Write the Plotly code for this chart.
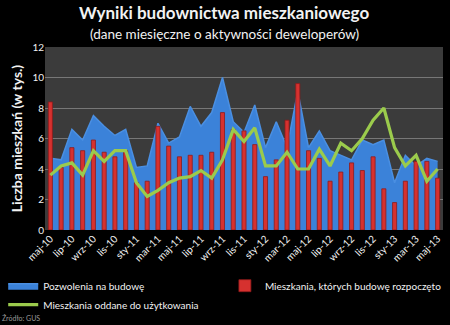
import plotly.graph_objects as go

# Monthly housing construction data, May 2010 - May 2013 (thousands of dwellings)
months = [
    "maj-10", "cze-10", "lip-10", "sie-10", "wrz-10", "paź-10", "lis-10", "gru-10",
    "sty-11", "lut-11", "mar-11", "kwi-11", "maj-11", "cze-11", "lip-11", "sie-11",
    "wrz-11", "paź-11", "lis-11", "gru-11", "sty-12", "lut-12", "mar-12", "kwi-12",
    "maj-12", "cze-12", "lip-12", "sie-12", "wrz-12", "paź-12", "lis-12", "gru-12",
    "sty-13", "lut-13", "mar-13", "kwi-13", "maj-13",
]

pozwolenia = [
    4.7, 4.6, 6.6, 5.9, 7.5, 6.8, 6.2, 6.6,
    4.1, 4.2, 7.0, 5.7, 6.1, 8.1, 6.8, 7.7,
    10.0, 7.1, 6.4, 8.2, 5.4, 7.1, 5.4, 9.1,
    5.4, 6.5, 5.2, 4.9, 4.6, 5.9, 5.6, 5.9,
    3.1, 4.9, 4.2, 4.7, 4.5,
]

rozpoczete = [
    8.4, 4.1, 5.4, 5.2, 5.9, 5.1, 4.8, 5.2,
    3.1, 3.2, 6.8, 5.5, 4.8, 4.9, 4.9, 5.1,
    7.7, 6.6, 6.5, 5.6, 3.5, 4.6, 7.2, 9.6,
    5.2, 4.7, 3.2, 3.8, 4.4, 3.9, 4.8, 2.7,
    1.8, 3.2, 4.5, 4.5, 3.4,
]

oddane = [
    3.6, 4.2, 4.4, 3.6, 5.2, 4.5, 5.2, 5.2,
    3.1, 2.2, 2.6, 3.1, 3.4, 3.5, 3.9, 3.4,
    4.6, 6.6, 5.8, 6.7, 4.2, 4.2, 5.1, 4.0,
    4.0, 5.3, 4.2, 5.7, 5.2, 6.0, 7.2, 8.0,
    5.4, 4.2, 4.9, 3.2, 4.0,
]

tick_labels = months[::2]
idx = list(range(len(months)))

FONT = "Lato"
WHITE = "#f2f2f2"

fig = go.Figure()

# Permits as a filled area on the base axis (drawn underneath)
fig.add_trace(go.Scatter(
    x=idx, y=pozwolenia, name="Pozwolenia na budowę",
    mode="lines", fill="tozeroy",
    line=dict(color="#4a8fe2", width=1.5),
    fillcolor="#3b82d9",
    legend="legend",
))

# Starts as bars and completions as a line on an overlaid axis, above the area
fig.add_trace(go.Bar(
    x=idx, y=rozpoczete, name="Mieszkania, których budowę rozpoczęto",
    width=0.38, yaxis="y2",
    marker=dict(color="#d6312f", line=dict(color="#8e1a1a", width=0.8)),
    legend="legend2",
))

fig.add_trace(go.Scatter(
    x=idx, y=oddane, name="Mieszkania oddane do użytkowania",
    mode="lines", yaxis="y2",
    line=dict(color="#9bcb4c", width=3.2),
    legend="legend",
))

legend_common = dict(
    orientation="v",
    yanchor="top", xanchor="left",
    font=dict(family=FONT, size=10, color=WHITE),
    bgcolor="rgba(0,0,0,0)",
    itemwidth=30, tracegroupgap=0,
)

fig.update_layout(
    width=450, height=325,
    margin=dict(l=45, r=3, t=47, b=95),
    paper_bgcolor="black",
    plot_bgcolor="#3b3b3b",
    font=dict(family=FONT, color=WHITE, size=10),
    showlegend=True,
    legend=dict(x=-0.105, y=-0.225, **legend_common),
    legend2=dict(x=0.452, y=-0.225, **legend_common),
)

fig.update_xaxes(
    range=[-0.5, len(months) - 0.5],
    tickmode="array",
    tickvals=idx[::2],
    ticktext=tick_labels,
    tickangle=-45,
    tickfont=dict(family=FONT, size=10, color=WHITE),
    showgrid=False,
    zeroline=False,
    showline=False,
    ticks="",
)

fig.update_layout(
    yaxis=dict(
        range=[0, 12],
        dtick=2,
        tickfont=dict(family=FONT, size=10, color=WHITE),
        gridcolor="#777777",
        gridwidth=1,
        zeroline=False,
        showline=False,
        ticks="",
        title=dict(
            text="<b>Liczba mieszkań (w tys.)</b>",
            font=dict(family=FONT, size=14, color=WHITE),
            standoff=6,
        ),
    ),
    yaxis2=dict(
        range=[0, 12],
        overlaying="y",
        side="left",
        showgrid=False,
        zeroline=False,
        showline=False,
        showticklabels=False,
        ticks="",
    ),
)

fig.add_annotation(
    text="<b>Wyniki budownictwa mieszkaniowego</b>",
    xref="paper", yref="paper", x=0.45, y=1.0,
    xanchor="center", yanchor="bottom", yshift=22,
    showarrow=False,
    font=dict(family=FONT, size=17, color=WHITE),
)
fig.add_annotation(
    text="(dane miesięczne o aktywności deweloperów)",
    xref="paper", yref="paper", x=0.45, y=1.0,
    xanchor="center", yanchor="bottom", yshift=3,
    showarrow=False,
    font=dict(family=FONT, size=13.5, color=WHITE),
)
fig.add_annotation(
    text="Źródło: GUS",
    xref="paper", yref="paper", x=-0.112, y=-0.515,
    xanchor="left", yanchor="bottom",
    showarrow=False,
    font=dict(family=FONT, size=7, color="#9a9a9a"),
)

fig.write_html("out.html")
